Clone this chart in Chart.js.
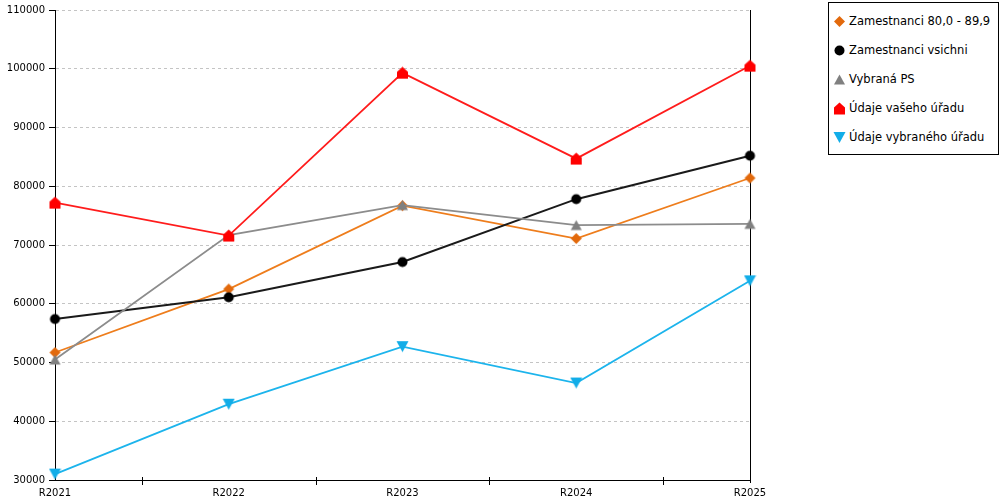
<!DOCTYPE html>
<html>
<head>
<meta charset="utf-8">
<script src="https://cdn.jsdelivr.net/npm/chart.js@4.4.1/dist/chart.umd.min.js"></script>
<style>
html,body{margin:0;padding:0;background:#fff;}
#wrap{position:relative;width:1000px;height:500px;overflow:hidden;}
#chart{position:absolute;left:0;top:0;}
#legend{position:absolute;left:828px;top:2px;width:171px;height:153px;border:1px solid #000;box-sizing:border-box;background:#fff;font-family:"DejaVu Sans",sans-serif;font-size:11.5px;color:#000;}
.item{position:absolute;left:4px;height:14px;line-height:14px;white-space:nowrap;}
.item canvas{position:absolute;left:0;top:1px;}
.item span{position:absolute;left:16px;top:0;}
</style>
</head>
<body>
<div id="wrap">
<canvas id="chart" width="1000" height="500"></canvas>
<div id="legend"></div>
</div>
<script>
const categories = ['R2021', 'R2022', 'R2023', 'R2024', 'R2025'];
const seriesNames = ['Zamestnanci 80,0 - 89,9', 'Zamestnanci vsichni', 'Vybraná PS', 'Údaje vašeho úřadu', 'Údaje vybraného úřadu'];
const zam80 = [51700, 62500, 76700, 71100, 81400];
const zamAll = [57400, 61100, 67100, 77800, 85200];
const vybranaPS = [50500, 71700, 76800, 73400, 73600];
const vasUrad = [77200, 71600, 99300, 84700, 100500];
const vybranyUrad = [31000, 42900, 52700, 46500, 63900];
const yMin = 30000, yMax = 110000, yStep = 10000;

function makeMarker(shape, color) {
  const c = document.createElement('canvas');
  c.width = 13; c.height = 13;
  const g = c.getContext('2d');
  g.fillStyle = color;
  g.beginPath();
  if (shape === 'circle') {
    g.arc(6.5, 6.5, 5, 0, Math.PI * 2);
  } else if (shape === 'diamond') {
    g.moveTo(6.5, 1); g.lineTo(12, 6.5); g.lineTo(6.5, 12); g.lineTo(1, 6.5);
  } else if (shape === 'up') {
    g.moveTo(6.5, 1.5); g.lineTo(12, 11.5); g.lineTo(1, 11.5);
  } else if (shape === 'house') {
    g.moveTo(6.5, 0.5); g.lineTo(12, 5.5); g.lineTo(12, 12.5); g.lineTo(1, 12.5); g.lineTo(1, 5.5);
  } else if (shape === 'down') {
    g.moveTo(0.5, 1); g.lineTo(12.5, 1); g.lineTo(6.5, 12);
  }
  g.closePath();
  g.fill();
  return c;
}

const shapes = ['diamond', 'circle', 'up', 'house', 'down'];
const markerColors = ['#e2690c', '#000000', '#808080', '#ff0000', '#12ade8'];
const lineColors = ['#ee7d1c', '#1a1a1a', '#8c8c8c', '#ff1c1c', '#1cb4ec'];
const allData = [zam80, zamAll, vybranaPS, vasUrad, vybranyUrad];

const datasets = allData.map((d, i) => ({
  label: seriesNames[i],
  data: d,
  borderColor: lineColors[i],
  backgroundColor: lineColors[i],
  borderWidth: i === 1 ? 2 : 1.8,
  tension: 0,
  pointStyle: makeMarker(shapes[i], markerColors[i]),
  pointRadius: 6,
  pointHoverRadius: 6,
  clip: false,
  order: 5 - i
}));

const framePlugin = {
  id: 'frame',
  beforeDatasetsDraw(chart) {
    const {ctx, chartArea} = chart;
    const xs = chart.scales.x;
    ctx.save();
    ctx.strokeStyle = '#000';
    ctx.lineWidth = 1;
    ctx.beginPath();
    const rx = Math.round(chartArea.right) + 0.5;
    ctx.moveTo(rx, chartArea.top);
    ctx.lineTo(rx, chartArea.bottom + 3);
    for (let i = 1; i < categories.length; i++) {
      const mx = Math.round((xs.getPixelForValue(i) + xs.getPixelForValue(i - 1)) / 2) + 0.5;
      ctx.moveTo(mx, chartArea.bottom - 3);
      ctx.lineTo(mx, chartArea.bottom + 5);
    }
    ctx.stroke();
    ctx.restore();
  }
};

Chart.defaults.font.family = '"DejaVu Sans", sans-serif';
Chart.defaults.font.size = 10;
Chart.defaults.color = '#000';

new Chart(document.getElementById('chart'), {
  type: 'line',
  data: { labels: categories, datasets: datasets },
  options: {
    responsive: false,
    animation: false,
    events: [],
    layout: { padding: { left: 0, right: 250, top: 10, bottom: 0 } },
    plugins: { legend: { display: false }, tooltip: { enabled: false } },
    scales: {
      x: {
        offset: false,
        grid: { drawOnChartArea: false, drawTicks: false },
        border: { display: true, color: '#000', width: 1 },
        ticks: { padding: 7, maxRotation: 0, autoSkip: false },
        afterFit(s) { s.height = 20; }
      },
      y: {
        min: yMin, max: yMax,
        grid: { color: '#c4c4c4', lineWidth: 1, tickLength: 6, tickColor: '#000', tickBorderDash: [] },
        border: { display: true, color: '#000', width: 1, dash: [3, 3] },
        ticks: { stepSize: yStep, padding: 4, callback: (v) => String(v) },
        afterFit(s) { s.width = 55; }
      }
    }
  },
  plugins: [framePlugin]
});

const legend = document.getElementById('legend');
seriesNames.forEach((name, i) => {
  const it = document.createElement('div');
  it.className = 'item';
  it.style.top = (11 + i * 29) + 'px';
  it.appendChild(makeMarker(shapes[i], markerColors[i]));
  const s = document.createElement('span');
  s.textContent = name;
  it.appendChild(s);
  legend.appendChild(it);
});
</script>
</body>
</html>
